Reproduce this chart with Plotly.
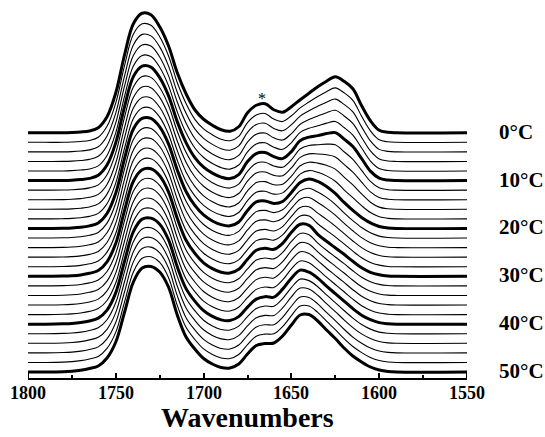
import plotly.graph_objects as go

# Wavenumber grid (cm^-1)
WN = [1800, 1790, 1780, 1775, 1770, 1765, 1760, 1755, 1750, 1745, 1740, 1735, 1730, 1725,
      1720, 1715, 1710, 1705, 1700, 1695, 1690, 1685, 1680, 1675, 1670, 1665, 1660, 1655,
      1650, 1645, 1640, 1635, 1630, 1625, 1620, 1615, 1610, 1605, 1600, 1595, 1590, 1550]

# Absorbance (arbitrary units), one list per temperature
T00 = [0,0,0,0.3,0.8,1.8,5,16,40,78,109,119.5,118,106,87,60,39,23,13.5,7.5,3,1.5,
       6,20,27.5,29,23,20.5,26,33,39.5,46,51.5,56,51.5,44,27,12,2.5,0.5,0,0]
T02 = [0,0,0,0.3,0.85,1.9,5.1,16,39.5,77,108,118.5,117,105.5,86.5,59.8,38.8,23,13.5,7.5,3.1,1.6,
       6,19.8,27.4,28.8,23.2,20.8,26.6,34.4,40.3,45.8,50.6,54.4,49.5,42,26,11.5,2.5,0.5,0,0]
T04 = [0,0,0,0.3,0.9,2,5.1,15.9,39,76,107,117.5,116,105,86,59.6,38.6,23,13.5,7.5,3.2,1.7,
       6,19.6,27.3,28.6,23.4,21.1,27.2,35.8,41.1,45.6,49.7,52.8,47.5,40,25,11,2.5,0.5,0,0]
T06 = [0,0,0.1,0.35,0.9,2.1,5.2,15.8,38.8,75.5,106,116.5,115.5,104.5,85.8,59.4,38.4,23,13.5,7.5,3.3,1.8,
       6,19.4,27.2,28.4,23.6,21.4,27.8,37.2,41.9,45.4,48.8,51.2,45.5,38,24,10.5,2.5,0.5,0,0]
T08 = [0,0,0.1,0.4,1,2.1,5.2,15.6,38.4,74.8,105,115.5,114.5,103.8,85.4,59.2,38.2,23,13.5,7.5,3.4,1.9,
       6,19.2,27.1,28.2,23.8,21.7,28.4,38.6,42.7,45.2,47.9,49.6,43.5,36,23,10,2.5,0.5,0,0]
T10 = [0,0,0.1,0.4,1,2.2,5.3,15.5,38,74,104,114.5,113.5,103,85,59,38,23,13.5,7.5,3.5,2,
       6,19,27,28,24,22,29,40,43.5,45,47,48,41.5,34,22,9.5,2.5,0.5,0,0]
T12 = [0,0,0.1,0.4,1,2.3,5.3,15.4,37.5,73.2,103.1,113.6,112.8,102.7,84.9,58.9,37.8,23,13.5,7.5,3.6,2.1,
       6.1,18.8,26.9,27.9,24.2,23,30.4,41.2,44.7,45.4,46,45.4,38.4,30.8,19.8,8.7,2.4,0.5,0,0]
T14 = [0,0,0.15,0.45,1.1,2.4,5.4,15.3,37,72.4,102.2,112.7,112.1,102.4,84.8,58.8,37.6,23,13.5,7.5,3.6,2.2,
       6.2,18.6,26.8,27.8,24.4,24,31.8,42.4,45.9,45.8,45,42.8,35.3,27.6,17.6,7.9,2.3,0.5,0,0]
T16 = [0,0,0.15,0.45,1.1,2.4,5.4,15.2,36.5,71.6,101.3,111.8,111.4,102.1,84.7,58.7,37.4,23,13.5,7.5,3.7,2.4,
       6.3,18.4,26.7,27.7,24.6,25,33.2,43.6,47.1,46.2,44,40.2,32.2,24.4,15.4,7.1,2.2,0.5,0,0]
T18 = [0,0,0.2,0.5,1.2,2.5,5.5,15.1,36,70.8,100.4,110.9,110.7,101.8,84.6,58.6,37.2,23,13.5,7.5,3.8,2.5,
       6.4,18.2,26.6,27.6,24.8,26,34.6,44.8,48.3,46.6,43,37.6,29.1,21.2,13.2,6.3,2.1,0.5,0,0]
T20 = [0,0,0.2,0.5,1.2,2.6,5.5,15,35.5,70,99.5,110,110,101.5,84.5,58.5,37,23,13.5,7.5,3.8,2.6,
       6.5,18,26.5,27.5,25,27,36,46,49.5,47,42,35,26,18,11,5.5,2,0.5,0,0]
T22 = [0,0,0.2,0.5,1.2,2.7,5.6,14.9,35,69.2,98.6,109.3,109.5,101.3,84.5,58.4,36.8,23,13.5,7.5,3.9,2.7,
       6.6,17.8,26.4,27.6,25.4,28.2,37.6,47.2,49.8,46,40.6,33.7,25.2,17.4,10.5,5.2,1.9,0.5,0,0]
T24 = [0,0,0.2,0.55,1.3,2.8,5.6,14.8,34.5,68.4,97.7,108.6,109,101.1,84.5,58.3,36.6,23,13.5,7.6,3.9,2.8,
       6.7,17.6,26.3,27.7,25.8,29.4,39.2,48.4,50.1,45,39.2,32.4,24.4,16.8,10,4.9,1.8,0.4,0,0]
T26 = [0,0,0.2,0.55,1.3,2.8,5.7,14.7,34,67.6,96.8,107.9,108.5,100.9,84.5,58.2,36.4,23,13.5,7.6,4,3,
       6.8,17.4,26.2,27.8,26.2,30.6,40.8,49.6,50.4,44,37.8,31.1,23.6,16.2,9.5,4.6,1.7,0.4,0,0]
T28 = [0,0,0.2,0.6,1.4,2.9,5.7,14.6,33.5,66.8,95.9,107.2,108,100.7,84.5,58.1,36.2,23,13.5,7.7,4,3.1,
       6.9,17.2,26.1,27.9,26.6,31.8,42.4,50.8,50.7,43,36.4,29.8,22.8,15.6,9,4.3,1.6,0.3,0,0]
T30 = [0,0,0.2,0.6,1.4,3,5.8,14.5,33,66,95,106.5,107.5,100.5,84.5,58,36,23,13.5,7.7,4.1,3.2,
       7,17,26,28,27,33,44,52,51,42,35,28.5,22,15,8.5,4,1.5,0.3,0,0]
T32 = [0,0,0.2,0.6,1.4,3,5.8,14.4,32.7,65.4,94.5,106.2,107.2,100.4,84.5,57.9,35.9,23,13.5,7.7,4.1,3.3,
       7.1,17,25.8,27.9,27,33.4,44.4,52.4,51.2,42.8,35.6,28.9,22.2,15.1,8.6,4.1,1.5,0.3,0,0]
T34 = [0,0,0.25,0.65,1.5,3.1,5.9,14.3,32.4,64.8,94,105.9,106.9,100.3,84.5,57.8,35.8,23,13.5,7.7,4.2,3.4,
       7.2,17,25.6,27.8,27,33.8,44.8,52.8,51.4,43.6,36.2,29.3,22.4,15.2,8.7,4.2,1.5,0.3,0,0]
T36 = [0,0,0.25,0.65,1.5,3.1,5.9,14.2,32.1,64.2,93.5,105.6,106.6,100.2,84.5,57.7,35.7,23,13.5,7.8,4.2,3.5,
       7.3,17,25.4,27.7,27,34.2,45.2,53.2,51.6,44.4,36.8,29.7,22.6,15.3,8.8,4.3,1.5,0.4,0,0]
T38 = [0,0,0.3,0.7,1.6,3.2,6,14.1,31.8,63.6,93,105.3,106.3,100.1,84.5,57.6,35.6,23,13.5,7.8,4.3,3.5,
       7.4,17,25.2,27.6,27,34.6,45.6,53.6,51.8,45.2,37.4,30.1,22.8,15.4,8.9,4.4,1.5,0.4,0,0]
T40 = [0,0,0.3,0.7,1.6,3.2,6,14,31.5,63,92.5,105,106,100,84.5,57.5,35.5,23,13.5,7.8,4.3,3.6,
       7.5,17,25,27.5,27,35,46,54,52,46,38,30.5,23,15.5,9,4.5,1.5,0.4,0,0]
T42 = [0,0,0.3,0.7,1.6,3.3,6,14,31.2,62.4,92,104.8,105.9,100,84.6,57.4,35.4,23,13.5,7.8,4.3,3.7,
       7.6,17.2,25.3,27.7,27.4,35.2,46.2,54.6,53.1,47,38.8,31.1,23.2,15.6,9.2,4.6,1.6,0.4,0,0]
T44 = [0,0,0.3,0.75,1.7,3.4,6,14,30.9,61.8,91.5,104.6,105.8,100,84.7,57.3,35.3,23,13.5,7.9,4.4,3.8,
       7.7,17.4,25.6,27.9,27.8,35.4,46.4,55.2,54.2,48,39.6,31.7,23.4,15.7,9.4,4.7,1.7,0.4,0,0]
T46 = [0,0,0.3,0.75,1.7,3.4,6,14,30.6,61.2,91,104.4,105.7,100,84.8,57.2,35.2,23,13.5,7.9,4.4,3.8,
       7.8,17.6,25.9,28.1,28.2,35.6,46.6,55.8,55.3,49,40.4,32.3,23.6,15.8,9.6,4.8,1.8,0.5,0,0]
T48 = [0,0,0.3,0.8,1.8,3.5,6,14,30.3,60.6,90.5,104.2,105.6,100,84.9,57.1,35.1,23,13.5,8,4.5,3.9,
       7.9,17.8,26.2,28.3,28.6,35.8,46.8,56.4,56.4,50,41.2,32.9,23.8,15.9,9.8,4.9,1.9,0.5,0,0]
T50 = [0,0,0.3,0.8,1.8,3.5,6,14,30,60,90,104,105.5,100,85,57,35,23,13.5,8,4.5,4,
       8,18,26.5,28.5,29,36,47,57,57.5,51,42,33.5,24,16,10,5,2,0.5,0,0]

TEMPS = [0, 2, 4, 6, 8, 10, 12, 14, 16, 18, 20, 22, 24, 26, 28, 30,
         32, 34, 36, 38, 40, 42, 44, 46, 48, 50]
SPECTRA = [T00, T02, T04, T06, T08, T10, T12, T14, T16, T18, T20, T22, T24, T26, T28, T30,
           T32, T34, T36, T38, T40, T42, T44, T46, T48, T50]
LABELED = [0, 10, 20, 30, 40, 50]
XTICKS = [1800, 1750, 1700, 1650, 1600, 1550]
XMINOR = [1775, 1725, 1675, 1625, 1575]
STAR_WN = 1667

OFFSET_STEP = 9.57
SERIF = "Liberation Serif"

fig = go.Figure()
n = len(TEMPS)
for i, (t, spec) in enumerate(zip(TEMPS, SPECTRA)):
    off = (n - 1 - i) * OFFSET_STEP
    thick = t in LABELED
    fig.add_trace(go.Scatter(
        x=WN, y=[v + off for v in spec], mode="lines",
        line=dict(color="black", width=3 if thick else 1.1, shape="spline", smoothing=1.0),
        showlegend=False, hoverinfo="skip"))
    if thick:
        fig.add_annotation(x=1.068, xref="paper", y=off + 1, yref="y",
                           text=f"<b>{t}°C</b>", showarrow=False, xanchor="left",
                           yanchor="middle",
                           font=dict(family=SERIF, size=21, color="black", weight="bold"))

# bold tick labels under the axis
for v in XTICKS:
    fig.add_annotation(x=v, xref="x", y=-0.040, yref="paper", text=f"<b>{v}</b>",
                       showarrow=False, xanchor="center", yanchor="middle",
                       font=dict(family=SERIF, size=18, color="black", weight="bold"))

fig.add_annotation(x=STAR_WN, xref="x", y=OFFSET_STEP * (n - 1) + 34, yref="y",
                   text="*", showarrow=False, xanchor="center", yanchor="middle",
                   font=dict(family=SERIF, size=16, color="black"))

fig.add_annotation(x=0.5, xref="paper", y=-0.105, yref="paper", text="<b>Wavenumbers</b>",
                   showarrow=False, xanchor="center", yanchor="middle",
                   font=dict(family=SERIF, size=28, color="black", weight="bold"))

# short end bars joining the bottom spectrum to the axis
for xb in (XTICKS[0], XTICKS[-1]):
    fig.add_shape(type="line", x0=xb, x1=xb, y0=-6, y1=0, xref="x", yref="y",
                  line=dict(color="black", width=2))

fig.update_xaxes(range=[1800, 1550], tickvals=XTICKS, showticklabels=False,
                 ticks="inside", ticklen=5, tickwidth=2, tickcolor="black",
                 showline=True, linecolor="black", linewidth=2, showgrid=False, zeroline=False,
                 minor=dict(tickvals=XMINOR, ticks="inside", ticklen=3,
                            tickwidth=1.5, tickcolor="black", showgrid=False))
fig.update_yaxes(visible=False, range=[-6, 372])
fig.update_layout(width=545, height=437, margin=dict(l=28, r=78, t=0, b=59),
                  plot_bgcolor="white", paper_bgcolor="white")
fig.write_html("out.html")
